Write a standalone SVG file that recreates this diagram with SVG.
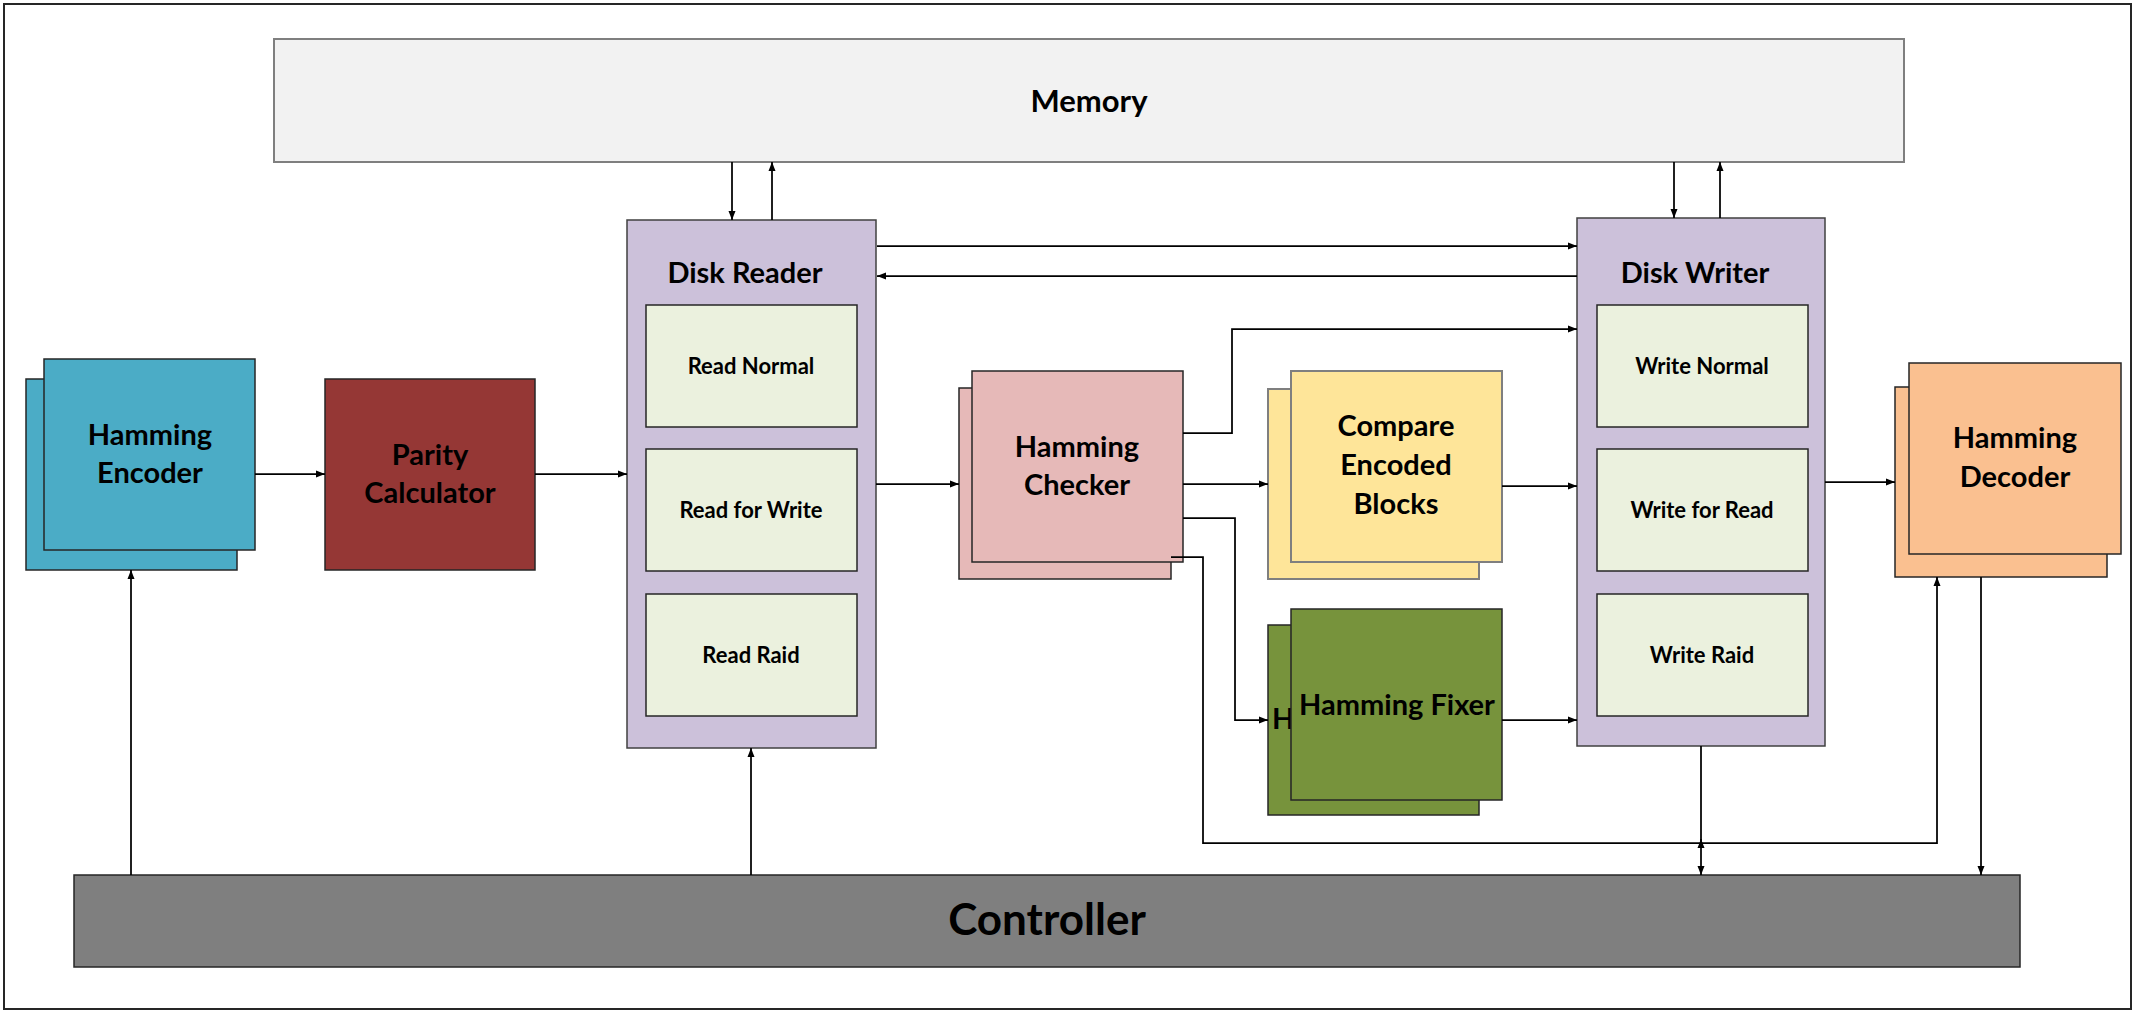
<svg xmlns="http://www.w3.org/2000/svg" width="2136" height="1014" viewBox="0 0 2136 1014">
<style>
  .big { font-family: Lato, "Open Sans", "Liberation Sans", sans-serif; font-weight: bold; font-size: 29px; fill: #000; text-anchor: middle; }
  .mem { font-size: 31px; }
  .small { font-family: Lato, "Open Sans", "Liberation Sans", sans-serif; font-weight: bold; font-size: 22px; fill: #000; text-anchor: middle; }
  .ctrl { font-family: Lato, "Open Sans", "Liberation Sans", sans-serif; font-weight: bold; font-size: 44px; fill: #000; text-anchor: middle; }
  .dark { stroke: #262626; stroke-width: 1.5; }
  .gray { stroke: #7f7f7f; stroke-width: 2; }
  .disk { fill: #ccc1da; stroke: #404040; stroke-width: 1.5; }
  .sub { fill: #ebf1de; stroke: #262626; stroke-width: 1.5; }
  .conn { fill: none; stroke: #000; stroke-width: 1.75; }
</style>
<defs>
  <marker id="arr" markerUnits="userSpaceOnUse" markerWidth="10" markerHeight="8" refX="9" refY="4" orient="auto">
    <path d="M0,0.5 L9,4 L0,7.5 z" fill="#000"/>
  </marker>
</defs>
<rect x="0" y="0" width="2136" height="1014" fill="#ffffff"/>
<rect x="4" y="4" width="2127" height="1005" fill="none" stroke="#262626" stroke-width="2"/>

<g id="memory">
  <rect x="274" y="39" width="1630" height="123" fill="#f2f2f2" class="gray"/>
  <text class="big mem" x="1089" y="112">Memory</text>
</g>

<g id="hamming-encoder">
  <rect x="26" y="379" width="211" height="191" fill="#4bacc6" class="dark"/>
  <rect x="44" y="359" width="211" height="191" fill="#4bacc6" class="dark"/>
  <text class="big" x="150" y="445">Hamming</text>
  <text class="big" x="150" y="483">Encoder</text>
</g>

<g id="parity-calculator">
  <rect x="325" y="379" width="210" height="191" fill="#953735" class="dark"/>
  <text class="big" x="430" y="465">Parity</text>
  <text class="big" x="430" y="503">Calculator</text>
</g>

<g id="disk-reader">
  <rect x="627" y="220" width="249" height="528" class="disk"/>
  <text class="big" x="745" y="283">Disk Reader</text>
  <g id="read-normal">
    <rect x="646" y="305" width="211" height="122" class="sub"/>
    <text class="small" x="751" y="374">Read Normal</text>
  </g>
  <g id="read-for-write">
    <rect x="646" y="449" width="211" height="122" class="sub"/>
    <text class="small" x="751" y="518">Read for Write</text>
  </g>
  <g id="read-raid">
    <rect x="646" y="594" width="211" height="122" class="sub"/>
    <text class="small" x="751" y="663">Read Raid</text>
  </g>
</g>

<g id="hamming-checker">
  <rect x="959" y="388" width="212" height="191" fill="#e6b9b8" class="dark"/>
  <rect x="972" y="371" width="211" height="191" fill="#e6b9b8" class="dark"/>
  <text class="big" x="1077" y="457">Hamming</text>
  <text class="big" x="1077" y="495">Checker</text>
</g>

<g id="compare-encoded-blocks">
  <rect x="1268" y="389" width="211" height="190" fill="#fee599" class="gray"/>
  <rect x="1291" y="371" width="211" height="191" fill="#fee599" class="gray"/>
  <text class="big" x="1396" y="436">Compare</text>
  <text class="big" x="1396" y="475">Encoded</text>
  <text class="big" x="1396" y="514">Blocks</text>
</g>

<g id="hamming-fixer">
  <rect x="1268" y="625" width="211" height="190" fill="#77933c" class="dark"/>
  <text class="big" x="1272" y="729" style="text-anchor:start">H</text>
  <rect x="1291" y="609" width="211" height="191" fill="#77933c" class="dark"/>
  <text class="big" x="1397" y="715">Hamming Fixer</text>
</g>

<g id="disk-writer">
  <rect x="1577" y="218" width="248" height="528" class="disk"/>
  <text class="big" x="1695" y="283">Disk Writer</text>
  <g id="write-normal">
    <rect x="1597" y="305" width="211" height="122" class="sub"/>
    <text class="small" x="1702" y="374">Write Normal</text>
  </g>
  <g id="write-for-read">
    <rect x="1597" y="449" width="211" height="122" class="sub"/>
    <text class="small" x="1702" y="518">Write for Read</text>
  </g>
  <g id="write-raid">
    <rect x="1597" y="594" width="211" height="122" class="sub"/>
    <text class="small" x="1702" y="663">Write Raid</text>
  </g>
</g>

<g id="hamming-decoder">
  <rect x="1895" y="387" width="212" height="190" fill="#fac090" class="dark"/>
  <rect x="1909" y="363" width="212" height="191" fill="#fac090" class="dark"/>
  <text class="big" x="2015" y="448">Hamming</text>
  <text class="big" x="2015" y="487">Decoder</text>
</g>

<g id="controller">
  <rect x="74" y="875" width="1946" height="92" fill="#7f7f7f" class="dark"/>
  <text class="ctrl" x="1047" y="935">Controller</text>
</g>

<g id="connectors">
  <path class="conn" d="M732,162 L732,220" marker-end="url(#arr)"/>
  <path class="conn" d="M772,220 L772,162" marker-end="url(#arr)"/>
  <path class="conn" d="M1674,162 L1674,218" marker-end="url(#arr)"/>
  <path class="conn" d="M1720,218 L1720,162" marker-end="url(#arr)"/>
  <path class="conn" d="M877,246 L1577,246" marker-end="url(#arr)"/>
  <path class="conn" d="M1577,276 L877,276" marker-end="url(#arr)"/>
  <path class="conn" d="M255,474 L325,474" marker-end="url(#arr)"/>
  <path class="conn" d="M535,474 L627,474" marker-end="url(#arr)"/>
  <path class="conn" d="M876,484 L959,484" marker-end="url(#arr)"/>
  <path class="conn" d="M1183,433 L1232,433 L1232,329 L1577,329" marker-end="url(#arr)"/>
  <path class="conn" d="M1183,484 L1268,484" marker-end="url(#arr)"/>
  <path class="conn" d="M1183,518 L1235,518 L1235,720 L1268,720" marker-end="url(#arr)"/>
  <path class="conn" d="M1171,557 L1203,557 L1203,843 L1937,843 L1937,577" marker-end="url(#arr)"/>
  <path class="conn" d="M1502,486 L1577,486" marker-end="url(#arr)"/>
  <path class="conn" d="M1502,720 L1577,720" marker-end="url(#arr)"/>
  <path class="conn" d="M1825,482 L1895,482" marker-end="url(#arr)"/>
  <path class="conn" d="M1981,577 L1981,875" marker-end="url(#arr)"/>
  <path class="conn" d="M1701,746 L1701,875" marker-end="url(#arr)"/>
  <path class="conn" d="M1701,848 L1701,839" marker-end="url(#arr)"/>
  <path class="conn" d="M131,875 L131,570" marker-end="url(#arr)"/>
  <path class="conn" d="M751,875 L751,748" marker-end="url(#arr)"/>
</g>
</svg>
